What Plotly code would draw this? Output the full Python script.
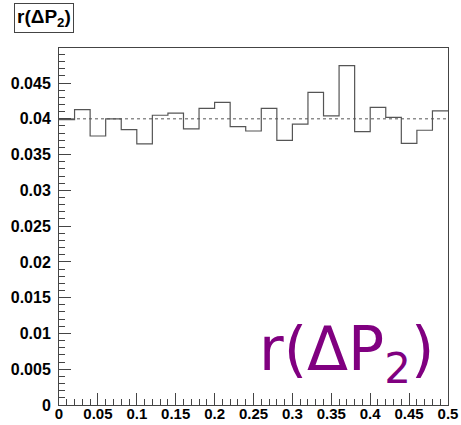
import numpy as np
import plotly.graph_objects as go

# ---- data ----
x_min, x_max, n_bins = 0.0, 0.5, 25
bin_values = [0.0399, 0.0413, 0.0376, 0.0400, 0.0385, 0.0365, 0.0405, 0.0408,
              0.0386, 0.04145, 0.0423, 0.0389, 0.0383, 0.04145, 0.0370, 0.03925,
              0.0437, 0.0404, 0.04745, 0.0382, 0.0416, 0.0402, 0.03656, 0.0384,
              0.0411]
reference_level = 0.04
x_tick_vals = [0, 0.05, 0.1, 0.15, 0.2, 0.25, 0.3, 0.35, 0.4, 0.45, 0.5]
x_tick_text = ["0", "0.05", "0.1", "0.15", "0.2", "0.25", "0.3", "0.35", "0.4", "0.45", "0.5"]
y_tick_vals = [0, 0.005, 0.01, 0.015, 0.02, 0.025, 0.03, 0.035, 0.04, 0.045]
y_tick_text = ["0", "0.005", "0.01", "0.015", "0.02", "0.025", "0.03", "0.035", "0.04", "0.045"]
title_text = "r(ΔP<sub>2</sub>)"

edges = np.linspace(x_min, x_max, n_bins + 1)
ys = list(bin_values) + [bin_values[-1]]

fig = go.Figure()
fig.add_trace(go.Scatter(x=[x_min, x_max], y=[reference_level, reference_level],
                         mode="lines", line=dict(color="#555555", width=1, dash="dot"),
                         hoverinfo="skip", showlegend=False))
fig.add_trace(go.Scatter(x=edges, y=ys, mode="lines", line_shape="hv",
                         line=dict(color="#555555", width=1.2), showlegend=False))

axis_common = dict(showline=True, linecolor="#444444", linewidth=1, mirror=True,
                   ticks="inside", tickcolor="#444444", tickwidth=1,
                   showgrid=False, zeroline=False, automargin=False)
label_font = dict(family="Liberation Sans, Arial, sans-serif", color="black", weight="bold")

fig.update_xaxes(range=[x_min, x_max], tickvals=x_tick_vals, ticktext=x_tick_text,
                 ticklen=12, ticklabelstandoff=-5, tickfont=dict(size=15, **label_font),
                 minor=dict(dtick=0.01, ticks="inside", ticklen=6,
                            tickcolor="#444444", showgrid=False),
                 **axis_common)
fig.update_yaxes(range=[0, 0.0499], tickvals=y_tick_vals, ticktext=y_tick_text,
                 ticklen=12, ticklabelstandoff=4, tickfont=dict(size=16, **label_font),
                 minor=dict(dtick=0.001, ticks="inside", ticklen=6,
                            tickcolor="#444444", showgrid=False),
                 **axis_common)

fig.add_annotation(text=title_text, xref="paper", yref="paper",
                   x=-0.1157, y=1.125, xanchor="left", yanchor="top", showarrow=False,
                   font=dict(family="Liberation Sans, Arial, sans-serif", size=19,
                             color="black", weight="bold"),
                   bordercolor="#444444", borderwidth=1, borderpad=2, bgcolor="white")
fig.add_annotation(text=title_text, xref="x", yref="y", x=0.37, y=0.0072,
                   xanchor="center", yanchor="middle", showarrow=False,
                   font=dict(family="DejaVu Sans, sans-serif", size=60, color="#800080"))

fig.update_layout(width=461, height=425, margin=dict(l=59, r=13, t=48, b=20),
                  paper_bgcolor="white", plot_bgcolor="white")

fig.write_html("out.html")
